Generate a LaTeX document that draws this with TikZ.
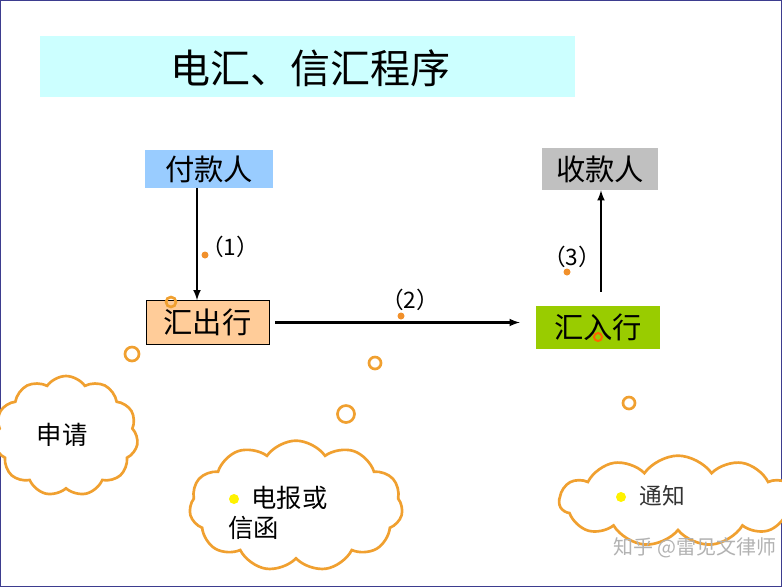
\documentclass[tikz,border=0pt]{standalone}
\usepackage{fontspec}
\setmainfont{Liberation Sans}
\newfontfamily\cjk{Noto Sans CJK SC}
\usetikzlibrary{shapes.symbols}
\definecolor{titlecyan}{HTML}{CCFFFF}
\definecolor{payblue}{HTML}{99CCFF}
\definecolor{recgray}{HTML}{C0C0C0}
\definecolor{outpeach}{HTML}{FFCC99}
\definecolor{ingreen}{HTML}{99CC00}
\definecolor{cloudorange}{HTML}{F0A030}
\newcommand{\drawBubble}[2]{\draw [cloudorange, line width=2pt] #1 circle [radius=#2]}
\newcommand{\drawDot}[1]{\fill [cloudorange!90!red] #1 circle [radius=3.5]}
\tikzset{
  party/.style={minimum height=#1, inner sep=0pt, font=\cjk\fontsize{22}{24}\selectfont},
  party/.default=28,
  step label/.style={font=\cjk\fontsize{17}{19}\selectfont},
  thought/.style={cloud, cloud puffs=11, cloud puff arc=110, draw=cloudorange, line width=2pt, fill=white, aspect=1.3, inner sep=0pt},
  flow/.style={-latex, line width=1.6pt}
}
\begin{document}
\begin{tikzpicture}[x=0.75pt, y=-0.75pt]
    \useasboundingbox (0,0) rectangle (782,587);
    \draw [gray!60!blue!80!black, line width=1pt] (0.5,0.5) rectangle (781.5,586.5);

    % title
    \fill [titlecyan] (40,36) rectangle (575,97);
    \node [font=\cjk\fontsize{30}{32}\selectfont] (title) at (310,68) {电汇、信汇程序};

    % parties and banks
    \node [party, fill=payblue, minimum width=96] (payer) at (209,169) {付款人};
    \node [party, fill=recgray, minimum width=87, minimum height=31.5] (payee) at (600,169) {收款人};
    \node [party, fill=outpeach, draw=black, line width=0.5pt, minimum width=92, minimum height=33] (remit) at (207.5,322.5) {汇出行};
    \node [party, fill=ingreen, minimum width=93, minimum height=32] (paying) at (598,327.5) {汇入行};

    % steps
    \draw [flow] (payer.south -| 197,0) -- (remit.north -| 197,0);
    \node [step label] (s1) at (230,247) {（1）};
    \draw [flow] (remit.east) ++(6,0) -- ([xshift=-12]paying.west |- remit.east);
    \node [step label] (s2) at (410,300) {（2）};
    \draw [flow] (paying.north -| 601,0) ++(0,-14) -- (payee.south -| 601,0);
    \node [step label] (s3) at (572,257) {（3）};

    \drawDot{(205,255)};
    \drawDot{(401,316)};
    \drawDot{(567,272)};
    \draw [orange!80!red, line width=1.5pt] (598,337) circle [radius=4];

    % bubbles
    \drawBubble{(171,302)}{5};
    \drawBubble{(132,354)}{7};
    \drawBubble{(375,363)}{6};
    \drawBubble{(346,414)}{8.5};
    \drawBubble{(629,403)}{6};

    % clouds
    \node [thought, minimum width=108, minimum height=90] (apply) at (66,436) {};
    \node [font=\cjk\fontsize{19}{21}\selectfont] (applytext) at (62,435) {申请};
    \node [thought, minimum width=160, minimum height=98] (wire) at (296,506) {};
    \fill [yellow] (234,499) circle [radius=5];
    \node [font=\cjk\fontsize{19}{22}\selectfont, align=left] (wiretext) at (278,513) {\hspace*{0.9em}电报或\\信函};
    \node [thought, minimum width=178, minimum height=68, aspect=2.5] (notice) at (678,501) {};
    \fill [yellow] (621,497) circle [radius=5];
    \node [font=\cjk\fontsize{17}{19}\selectfont, text=black!80] (noticetext) at (662,496) {通知};

    % watermark
    \node [font=\cjk\fontsize{15}{17}\selectfont, text=gray!60] (mark) at (695,548) {知乎 @雷见文律师};
\end{tikzpicture}
\end{document}
